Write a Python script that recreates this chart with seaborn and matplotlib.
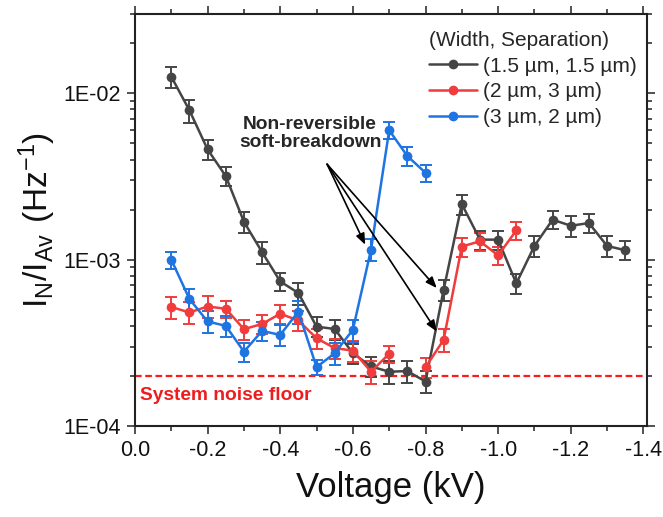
import numpy as np
import pandas as pd
import matplotlib
matplotlib.use("Agg")
import matplotlib.pyplot as plt
from matplotlib.lines import Line2D
from matplotlib.ticker import FixedLocator, LogLocator, FuncFormatter, NullFormatter
import seaborn as sns

# bias voltage (kV), step -0.05
V_BLACK = [-0.10, -0.15, -0.20, -0.25, -0.30, -0.35, -0.40, -0.45, -0.50, -0.55,
           -0.60, -0.65, -0.70, -0.75, -0.80, -0.85, -0.90, -0.95, -1.00, -1.05,
           -1.10, -1.15, -1.20, -1.25, -1.30, -1.35]
R_BLACK = [1.26e-2, 7.9e-3, 4.6e-3, 3.18e-3, 1.69e-3, 1.11e-3, 7.4e-4, 6.3e-4, 3.96e-4, 3.83e-4,
           2.74e-4, 2.28e-4, 2.12e-4, 2.14e-4, 1.85e-4, 6.6e-4, 2.16e-3, 1.32e-3, 1.32e-3, 7.2e-4,
           1.21e-3, 1.74e-3, 1.60e-3, 1.66e-3, 1.21e-3, 1.14e-3]
E_BLACK = [0.14, 0.16, 0.14, 0.13, 0.14, 0.15, 0.13, 0.15, 0.14, 0.14,
           0.14, 0.14, 0.16, 0.15, 0.15, 0.15, 0.14, 0.13, 0.13, 0.14,
           0.14, 0.12, 0.14, 0.13, 0.14, 0.13]

V_RED = [-0.10, -0.15, -0.20, -0.25, -0.30, -0.35, -0.40, -0.45, -0.50, -0.55,
         -0.60, -0.65, -0.70, -0.75, -0.80, -0.85, -0.90, -0.95, -1.00, -1.05]
R_RED = [5.19e-4, 4.82e-4, 5.23e-4, 5.07e-4, 3.82e-4, 4.11e-4, 4.73e-4, 4.31e-4, 3.37e-4, 2.94e-4,
         2.84e-4, 2.12e-4, 2.72e-4, np.nan, 2.25e-4, 3.30e-4, 1.20e-3, 1.29e-3, 1.06e-3, 1.50e-3]
E_RED = [0.15, 0.15, 0.15, 0.12, 0.14, 0.13, 0.13, 0.14, 0.14, 0.14,
         0.14, 0.16, 0.12, np.nan, 0.14, 0.16, 0.13, 0.12, 0.12, 0.13]

V_BLUE = [-0.10, -0.15, -0.20, -0.25, -0.30, -0.35, -0.40, -0.45, -0.50, -0.55,
          -0.60, -0.65, -0.70, -0.75, -0.80]
R_BLUE = [1.0e-3, 5.8e-4, 4.25e-4, 4.0e-4, 2.80e-4, 3.73e-4, 3.53e-4, 4.88e-4, 2.26e-4, 2.74e-4,
          3.79e-4, 1.15e-3, 6.0e-3, 4.2e-3, 3.33e-3]
E_BLUE = [0.12, 0.15, 0.15, 0.14, 0.13, 0.13, 0.14, 0.16, 0.10, 0.15,
          0.15, 0.15, 0.12, 0.13, 0.12]

LABELS = ["(1.5 \u00b5m, 1.5 \u00b5m)", "(2 \u00b5m, 3 \u00b5m)", "(3 \u00b5m, 2 \u00b5m)"]
COLORS = ["#454545", "#F03C3C", "#1E74E0"]
NOISE_FLOOR = 2e-4

sns.set_theme(style="ticks")
plt.rcParams["font.family"] = ["Liberation Sans", "DejaVu Sans"]
plt.rcParams["mathtext.fontset"] = "custom"
plt.rcParams["mathtext.rm"] = "Liberation Sans"
plt.rcParams["axes.unicode_minus"] = False

frames = []
for lab, v, r, e in [(LABELS[0], V_BLACK, R_BLACK, E_BLACK),
                     (LABELS[1], V_RED, R_RED, E_RED),
                     (LABELS[2], V_BLUE, R_BLUE, E_BLUE)]:
    d = pd.DataFrame({"voltage": v, "ratio": r, "err": e})
    d["device"] = lab
    d["seg"] = d["ratio"].isna().cumsum()  # break the line where a point is missing
    frames.append(d)
df = pd.concat(frames, ignore_index=True)

fig = plt.figure(figsize=(6.63, 5.17), dpi=100)
ax = fig.add_axes([0.2036, 0.176, 0.7723, 0.7969])

for lab, col in zip(LABELS, COLORS):
    d = df[(df["device"] == lab) & df["ratio"].notna()]
    ax.errorbar(d["voltage"], d["ratio"], yerr=d["ratio"] * d["err"], fmt="none",
                ecolor=col, elinewidth=1.4, capsize=4.5, capthick=1.4, zorder=2)

sns.lineplot(data=df.dropna(subset=["ratio"]), x="voltage", y="ratio", hue="device",
             units="seg", estimator=None, palette=dict(zip(LABELS, COLORS)),
             hue_order=LABELS, marker="o", markersize=7, markeredgewidth=0,
             linewidth=1.8, legend=False, sort=False, ax=ax, zorder=3)

ax.axhline(NOISE_FLOOR, color="#FF1A1A", linestyle=(0, (3, 1.6)), linewidth=1.6, zorder=1)
ax.text(-0.015, 1.53e-4, "System noise floor", color="#EE1C1C", fontsize=13.8,
        fontweight="bold", va="center", ha="left")

ax.set_yscale("log")
ax.set_ylim(1e-4, 3e-2)
ax.set_xlim(0, -1.41)
ax.yaxis.set_major_locator(FixedLocator([1e-4, 1e-3, 1e-2]))
ax.yaxis.set_major_formatter(FuncFormatter(lambda y, p: "1E-%02d" % round(-np.log10(y))))
ax.yaxis.set_minor_locator(LogLocator(base=10, subs=np.arange(2, 10)))
ax.yaxis.set_minor_formatter(NullFormatter())
ax.set_xticks(np.arange(0, -1.41, -0.2))
ax.set_xticks(np.arange(-0.1, -1.41, -0.2), minor=True)
ax.xaxis.set_major_formatter(FuncFormatter(lambda x, p: "%.1f" % x if abs(x) > 1e-9 else "0.0"))

for s in ax.spines.values():
    s.set_linewidth(1.5)
    s.set_color("#222222")
ax.tick_params(which="both", direction="out", top=True, right=True, color="#222222",
               width=1.1, labelsize=15.5, labelcolor="#111111", pad=4)
ax.tick_params(which="major", length=6)
ax.tick_params(which="minor", length=3.5)

ax.set_xlabel("Voltage (kV)", fontsize=25, color="#111111", labelpad=7)
ax.set_ylabel(r"$\mathregular{I_N/I_{Av}\ (Hz^{-1})}$", fontsize=24, color="#111111", labelpad=4)

ax.text(-0.482, 5.75e-3, "Non-reversible\nsoft-breakdown", ha="center", va="center",
        fontsize=13.8, fontweight="bold", linespacing=1.05)
tail = (-0.529, 3.75e-3)
for head in [(-0.634, 1.23e-3), (-0.831, 6.75e-4), (-0.831, 3.7e-4)]:
    ax.annotate("", xy=head, xytext=tail,
                arrowprops=dict(arrowstyle="-|>,head_length=0.55,head_width=0.22",
                                color="black", lw=1.2, shrinkA=0, shrinkB=0))

handles = [Line2D([], [], color=c, marker="o", markersize=7, markeredgewidth=0, linewidth=1.8)
           for c in COLORS]
leg = ax.legend(handles, LABELS, title="(Width, Separation)", loc="upper right",
                bbox_to_anchor=(1.005, 0.99), frameon=False, fontsize=15,
                title_fontsize=15, handlelength=2.3, handletextpad=0.3,
                labelspacing=0.33, borderaxespad=0.2, alignment="left")

fig.savefig("out.png", dpi=100)
